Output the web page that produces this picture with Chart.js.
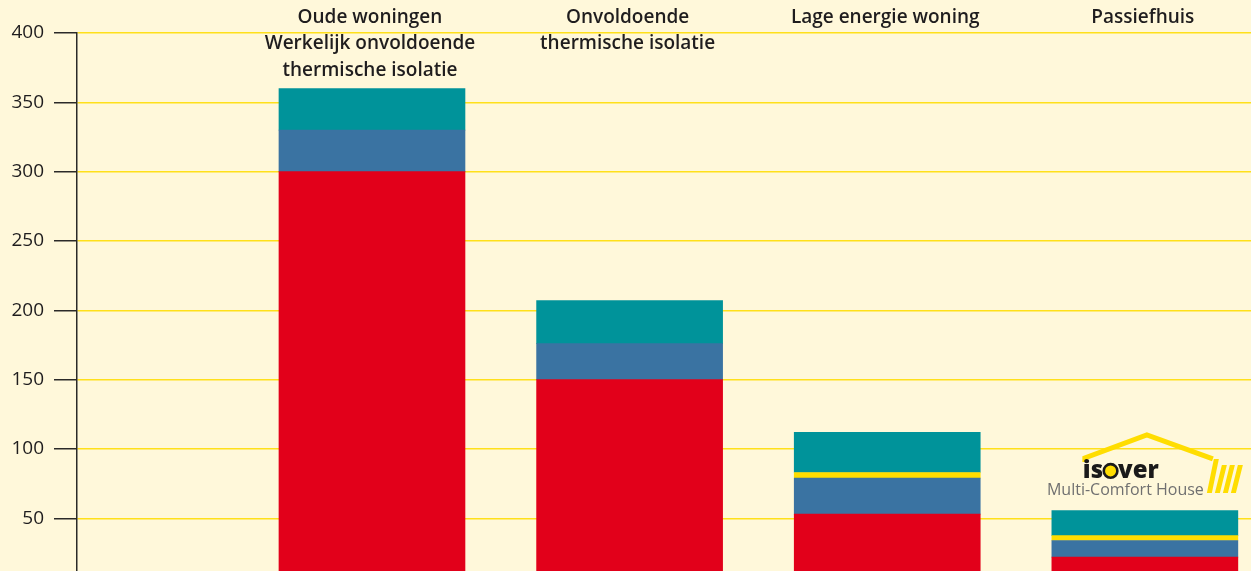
<!DOCTYPE html>
<html lang="nl">
<head>
<meta charset="utf-8">
<title>Energieverbruik woningen</title>
<script src="https://cdn.jsdelivr.net/npm/chart.js@4.4.1/dist/chart.umd.min.js"></script>
<style>
    html, body { margin: 0; padding: 0; background: #FFF8DA; overflow: hidden; }
    #wrap { position: relative; width: 1251px; height: 609px; }
</style>
</head>
<body>
<div id="wrap"><canvas id="energyChart"></canvas></div>
<script>
// ---------------- Data ----------------
const categories = [
    ['Oude woningen', 'Werkelijk onvoldoende', 'thermische isolatie'],
    ['Onvoldoende', 'thermische isolatie'],
    ['Lage energie woning'],
    ['Passiefhuis']
];
const redValues = [300, 150, 53, 22];
const blueValues = [30, 26, 26, 12];
const stripeValues = [null, null, 4, 3.5];
const tealValues = [30, 31, 29, 18];
const yTicks = [0, 50, 100, 150, 200, 250, 300, 350, 400];

const TEXT_COLOR = '#1f1d1e';
const AXIS_COLOR = '#2b2a28';

// bars sit on index 0..3 of a linear x scale
const toPoints = (values) => values.map((v, i) => ({ x: i, y: v }));

// ---------------- Category labels (drawn inside the plot, above the bars) ----------------
const categoryLabels = {
    id: 'categoryLabels',
    afterDraw(chart) {
        const { ctx, chartArea, scales } = chart;
        ctx.save();
        ctx.font = '600 19px "Open Sans", sans-serif';
        ctx.fillStyle = TEXT_COLOR;
        ctx.textAlign = 'center';
        ctx.textBaseline = 'middle';
        categories.forEach((lines, i) => {
            const cx = scales.x.getPixelForValue(i) - 2;
            lines.forEach((line, j) => {
                ctx.fillText(line, cx, chartArea.top - 15.5 + j * 26.5);
            });
        });
        ctx.restore();
    }
};

// ---------------- Isover Multi-Comfort House logo ----------------
const isoverLogo = {
    id: 'isoverLogo',
    afterDatasetsDraw(chart) {
        const { ctx, scales } = chart;
        const ax = scales.x.getPixelForValue(3) + 2;
        const ay = scales.y.getPixelForValue(100);
        ctx.save();

        // roof
        ctx.strokeStyle = '#FFDD00';
        ctx.fillStyle = '#FFDD00';
        ctx.lineWidth = 5;
        ctx.lineJoin = 'miter';
        ctx.beginPath();
        ctx.moveTo(ax - 62, ay + 13);
        ctx.lineTo(ax - 62, ay + 9);
        ctx.lineTo(ax, ay - 14);
        ctx.lineTo(ax + 66, ay + 10);
        ctx.stroke();

        // stripes
        for (let k = 0; k < 4; k++) {
            const top = k === 0 ? 10 : 16;
            ctx.beginPath();
            ctx.moveTo(ax + 60 + 8 * k, ay + 44);
            ctx.lineTo(ax + 65 + 8 * k, ay + 44);
            ctx.lineTo(ax + 72 + 8 * k, ay + top);
            ctx.lineTo(ax + 67 + 8 * k, ay + top);
            ctx.closePath();
            ctx.fill();
        }

        // "isover" word mark
        ctx.font = '800 24px "Open Sans", sans-serif';
        ctx.textBaseline = 'alphabetic';
        ctx.textAlign = 'left';
        ctx.fillStyle = '#1a1a1a';
        let tx = ax - 64;
        const base = ay + 29;
        ctx.fillText('is', tx, base);
        tx += ctx.measureText('is').width + 0.5;
        ctx.beginPath();
        ctx.arc(tx + 7, base - 7, 6.8, 0, Math.PI * 2);
        ctx.fillStyle = '#FFDD00';
        ctx.fill();
        ctx.lineWidth = 2.6;
        ctx.strokeStyle = '#1a1a1a';
        ctx.stroke();
        tx += 14.5;
        ctx.fillStyle = '#1a1a1a';
        ctx.fillText('ver', tx, base);

        // subtitle
        ctx.font = '16px "Open Sans", sans-serif';
        ctx.fillStyle = '#707070';
        ctx.textAlign = 'right';
        ctx.fillText('Multi-Comfort House', ax + 57, ay + 46);
        ctx.restore();
    }
};

// ---------------- Chart ----------------
const ctx = document.getElementById('energyChart').getContext('2d');
const energyChart = new Chart(ctx, {
    type: 'bar',
    data: {
        datasets: [
            { label: 'rood', data: toPoints(redValues), backgroundColor: '#E2001A' },
            { label: 'blauw', data: toPoints(blueValues), backgroundColor: '#3A73A2' },
            { label: 'geel', data: toPoints(stripeValues), backgroundColor: '#FFDD00' },
            { label: 'groen', data: toPoints(tealValues), backgroundColor: '#00939A' }
        ]
    },
    options: {
        animation: false,
        responsive: true,
        maintainAspectRatio: false,
        layout: { padding: { top: 33, bottom: 0, left: 0, right: 0 } },
        datasets: { bar: { barThickness: 186, borderWidth: 0 } },
        scales: {
            x: {
                type: 'linear',
                stacked: true,
                display: false,
                offset: false,
                min: -1.145,
                max: 3.412
            },
            y: {
                stacked: true,
                min: 0,
                max: 400,
                afterBuildTicks: (scale) => { scale.ticks = yTicks.map(v => ({ value: v })); },
                afterFit: (scale) => { scale.width = 77; },
                border: { display: true, color: AXIS_COLOR, width: 1.5 },
                grid: {
                    color: '#FFE01B',
                    lineWidth: 1.5,
                    drawTicks: true,
                    tickLength: 23,
                    tickColor: AXIS_COLOR,
                    tickWidth: 1.5
                },
                ticks: {
                    padding: 10,
                    color: TEXT_COLOR,
                    font: { family: '"Open Sans", sans-serif', size: 19 }
                }
            }
        },
        plugins: {
            legend: { display: false },
            tooltip: { enabled: false }
        }
    },
    plugins: [categoryLabels, isoverLogo]
});
</script>
</body>
</html>
